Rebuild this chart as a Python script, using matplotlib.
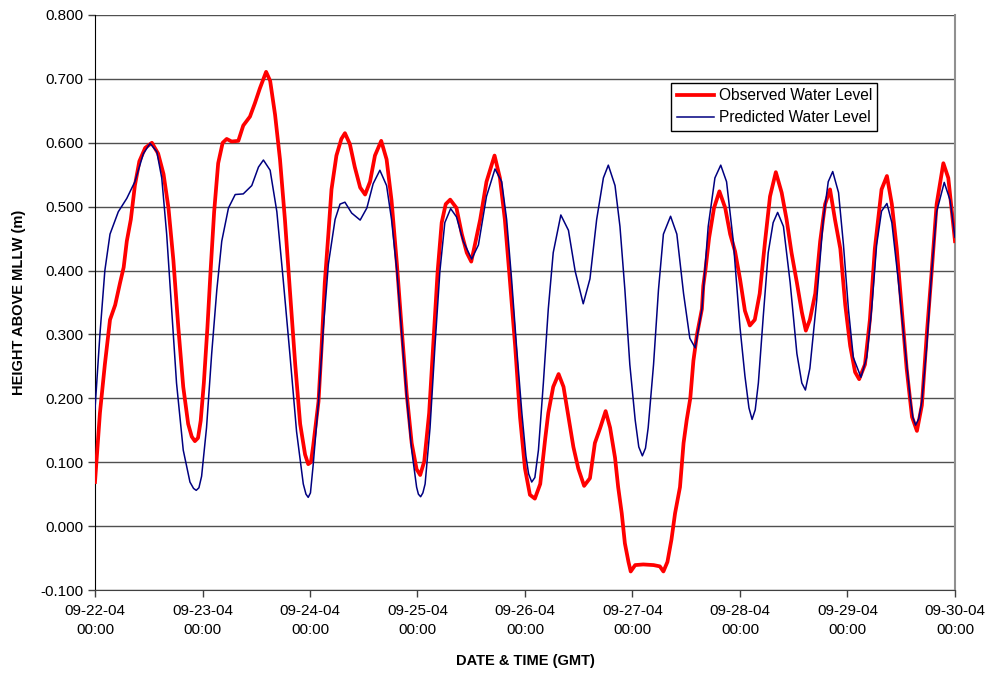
import numpy as np
import matplotlib
matplotlib.use('Agg')
import matplotlib.pyplot as plt

plt.rcParams['font.family'] = ['Liberation Sans', 'DejaVu Sans']

# hours after 09-22-04 00:00 GMT, water level in m above MLLW
obs_h = [0, 1.1, 2.2, 3.35, 4.5, 5.6, 6.4, 7.1, 8.0, 8.9, 9.9, 11.2, 12.7, 14.1, 15.3, 16.4, 17.5,
         18.6, 19.7, 20.8, 21.6, 22.3, 23.0, 23.6, 24.3, 25.1, 25.8, 26.6, 27.5, 28.5, 29.4, 30.5, 32.0, 33.1,
         34.6, 35.7, 36.8, 38.2, 39.1, 40.2, 41.3, 42.4, 43.5, 44.7, 45.8, 46.9, 47.6, 48.2, 48.7, 49.9,
         50.6, 51.3, 52.1, 52.8, 53.9, 55.0, 55.8, 56.9, 58.0, 59.2, 60.3, 61.4, 62.5, 63.9, 65.1,
         66.2, 67.4, 68.5, 69.6, 70.7, 71.8, 72.6, 73.5, 74.6, 75.6, 76.5, 77.4, 78.3, 79.3, 80.7,
         81.9, 83.0, 84.0, 84.8, 86.0, 87.4, 89.2, 90.4, 91.5, 92.6, 93.8, 94.9, 96.0, 97.1, 98.2,
         99.4, 100.5, 101.2, 102.3, 103.5, 104.6, 105.7, 106.8, 107.9, 109.2, 110.5, 111.6, 112.8,
         114.0, 115.0, 116.1, 116.8, 117.6, 118.3, 119.1, 119.6, 120.6, 122.4, 124.7, 126.1, 126.9,
         127.8, 128.7, 129.5, 130.6, 131.4, 132.1, 132.9, 133.6, 134.4, 135.5, 135.8, 136.3, 137.1,
         138.2, 139.4, 140.7, 141.8, 142.9, 144.0, 145.1, 146.2, 147.3, 148.4, 149.6, 150.7, 152.0,
         153.3, 154.4, 155.5, 156.7, 157.8, 158.7, 159.6, 160.8, 161.9, 163.0, 164.1, 165.2, 166.4,
         167.5, 168.6, 169.7, 170.6, 171.9, 173.0, 174.1, 175.6, 176.8, 177.9, 179.0, 180.1, 181.2,
         182.4, 183.5, 184.6, 185.7, 186.8, 187.9, 189.4, 190.5, 192.0]
obs_v = [0.069, 0.177, 0.253, 0.323, 0.346, 0.381, 0.405, 0.446, 0.480, 0.533, 0.571, 0.592, 0.600,
         0.583, 0.551, 0.498, 0.416, 0.311, 0.218, 0.160, 0.140, 0.133, 0.138, 0.165, 0.224, 0.311, 0.399, 0.492,
         0.568, 0.600, 0.606, 0.602, 0.603, 0.627, 0.641, 0.662, 0.685, 0.711, 0.697, 0.644, 0.574,
         0.480, 0.370, 0.253, 0.160, 0.112, 0.097, 0.100, 0.125, 0.195, 0.282, 0.381, 0.457, 0.527, 0.580,
         0.606, 0.615, 0.598, 0.562, 0.530, 0.519, 0.539, 0.580, 0.603, 0.574, 0.510, 0.410, 0.306,
         0.206, 0.130, 0.089, 0.080, 0.101, 0.177, 0.294, 0.399, 0.475, 0.504, 0.511, 0.498, 0.457,
         0.428, 0.414, 0.440, 0.480, 0.539, 0.580, 0.545, 0.480, 0.387, 0.282, 0.170, 0.090, 0.049,
         0.043, 0.066, 0.136, 0.177, 0.218, 0.238, 0.218, 0.171, 0.124, 0.090, 0.063, 0.075, 0.130,
         0.154, 0.180, 0.154, 0.107, 0.061, 0.020, -0.027, -0.056, -0.071, -0.061, -0.060, -0.061,
         -0.063, -0.071, -0.056, -0.021, 0.020, 0.061, 0.130, 0.166, 0.200, 0.259, 0.300, 0.340,
         0.376, 0.402, 0.451, 0.498, 0.524, 0.498, 0.457, 0.430, 0.387, 0.337, 0.314, 0.323, 0.364,
         0.446, 0.516, 0.554, 0.522, 0.480, 0.428, 0.381, 0.335, 0.306, 0.323, 0.364, 0.446, 0.504,
         0.527, 0.480, 0.434, 0.346, 0.282, 0.241, 0.230, 0.253, 0.323, 0.434, 0.527, 0.548, 0.504,
         0.434, 0.340, 0.247, 0.171, 0.149, 0.189, 0.300, 0.399, 0.504, 0.568, 0.545, 0.446]

pred_h = [0, 1.1, 2.2, 3.35, 5.2, 7.1, 8.9, 10.8, 12.3, 13.8, 14.9, 16.0, 17.1, 18.2, 19.7, 21.2,
          22.0, 22.6, 23.2, 23.8, 24.9, 26.05, 27.2, 28.3, 29.8, 31.3, 33.1, 35.0, 36.5, 37.6, 39.1, 40.6, 42.0,
          43.5, 45.0, 46.5, 47.1, 47.6, 48.1, 48.7, 49.9, 51.0, 52.1, 53.6, 54.7, 55.8, 57.3, 59.2, 60.7, 62.1,
          63.6, 65.1, 66.2, 67.4, 68.5, 69.6, 70.7, 71.8, 72.2, 72.7, 73.2, 73.7, 74.8, 75.9, 77.0, 78.1, 79.4,
          80.7, 82.2, 84.1, 85.6, 87.4, 89.3, 90.8, 91.9, 93.0, 94.1, 95.3, 96.2, 96.8, 97.5, 98.2, 99.0, 100.1,
          101.2, 102.3, 104.0, 105.7, 107.2, 109.0, 110.5, 112.0, 113.5, 114.6, 116.1, 117.2, 118.3,
          119.4, 120.6, 121.4, 122.2, 122.9, 123.5, 124.7, 125.8, 126.9, 128.5, 129.9, 131.4, 132.8, 134.0, 135.5,
          136.9, 138.4, 139.7, 141.0, 142.5, 144.0, 145.1, 146.0, 146.7, 147.4, 148.1, 149.2, 150.3, 151.4, 152.4,
          153.7, 155.2, 156.7, 157.8, 158.6, 159.6, 161.1, 162.6, 163.7, 164.7, 166.0, 167.1, 168.2,
          169.3, 171.0, 172.3, 173.4, 174.5, 175.6, 176.8, 177.9, 179.3, 180.8, 182.0, 182.6, 183.2, 183.9, 184.6,
          185.7, 186.8, 187.9, 189.6, 190.9, 192.0]
pred_v = [0.183, 0.300, 0.400, 0.457, 0.492, 0.513, 0.539, 0.583, 0.599, 0.586, 0.545, 0.457, 0.340,
          0.224, 0.119, 0.069, 0.059, 0.056, 0.060, 0.078, 0.154, 0.270, 0.370, 0.446, 0.498, 0.519, 0.520, 0.533,
          0.562, 0.573, 0.557, 0.492, 0.387, 0.270, 0.148, 0.066, 0.050, 0.045, 0.052, 0.095, 0.195, 0.312, 0.410,
          0.480, 0.504, 0.507, 0.490, 0.479, 0.498, 0.536, 0.557, 0.533, 0.480, 0.399, 0.300, 0.200,
          0.119, 0.061, 0.050, 0.046, 0.052, 0.066, 0.154, 0.282, 0.399, 0.475, 0.497, 0.484, 0.446, 0.418, 0.440,
          0.516, 0.559, 0.539, 0.480, 0.387, 0.282, 0.177, 0.110, 0.082, 0.069, 0.076, 0.119, 0.224, 0.340, 0.428,
          0.487, 0.463, 0.399, 0.348, 0.387, 0.480, 0.545, 0.565, 0.533, 0.469, 0.370, 0.253, 0.166,
          0.124, 0.110, 0.122, 0.154, 0.253, 0.370, 0.457, 0.485, 0.457, 0.364, 0.294, 0.279, 0.340, 0.469, 0.545,
          0.565, 0.539, 0.446, 0.311, 0.235, 0.185, 0.167, 0.182, 0.224, 0.329, 0.428, 0.475, 0.491, 0.469, 0.381,
          0.270, 0.224, 0.213, 0.247, 0.352, 0.480, 0.539, 0.555, 0.522, 0.440, 0.340, 0.264, 0.233,
          0.264, 0.340, 0.440, 0.493, 0.505, 0.475, 0.387, 0.282, 0.200, 0.170, 0.158, 0.168, 0.195, 0.282, 0.399,
          0.492, 0.538, 0.510, 0.452]

tick_labels = ['09-22-04\n00:00', '09-23-04\n00:00', '09-24-04\n00:00', '09-25-04\n00:00',
               '09-26-04\n00:00', '09-27-04\n00:00', '09-28-04\n00:00', '09-29-04\n00:00',
               '09-30-04\n00:00']

fig = plt.figure(figsize=(9.9, 6.73), dpi=100)
ax = fig.add_axes([95/990, 1-590/673, 860/990, 575/673])

for yv in np.arange(-0.1, 0.81, 0.1):
    ax.axhline(yv, color='#505050', lw=1.0, zorder=1)

ax.plot(obs_h, obs_v, color='#FF0000', lw=2.7, label='Observed Water Level', zorder=3)
ax.plot(pred_h, pred_v, color='#000080', lw=1.1, label='Predicted Water Level', zorder=4)

ax.set_xlim(0, 192)
ax.set_ylim(-0.1, 0.8)
ax.set_xticks(np.arange(0, 193, 24))
ax.set_xticklabels(tick_labels, fontsize=11, linespacing=1.5)
ax.set_yticks(np.arange(-0.1, 0.81, 0.1))
ax.set_yticklabels(['%.3f' % v for v in np.arange(-0.1, 0.81, 0.1)], fontsize=11)
ax.tick_params(axis='both', direction='out', length=5, width=1, color='#404040')
ax.tick_params(axis='x', pad=5)

ax.spines['top'].set_visible(False)
ax.spines['right'].set_color('#909090')
ax.spines['right'].set_linewidth(1.5)
ax.spines['left'].set_color('black')
ax.spines['bottom'].set_color('#404040')

ax.set_xlabel('DATE & TIME (GMT)', fontsize=10.5, fontweight='bold', labelpad=12)
ax.set_ylabel('HEIGHT ABOVE MLLW (m)', fontsize=10.5, fontweight='bold', labelpad=10)

leg = ax.legend(loc='upper left', bbox_to_anchor=(0.67, 0.882), fontsize=11.2,
                frameon=True, fancybox=False, borderpad=0.35, handlelength=2.4,
                handletextpad=0.3, labelspacing=0.45, borderaxespad=0)
leg.get_frame().set_edgecolor('black')
leg.get_frame().set_linewidth(1.0)
leg.get_frame().set_alpha(1)

fig.savefig('out.png', dpi=100)
